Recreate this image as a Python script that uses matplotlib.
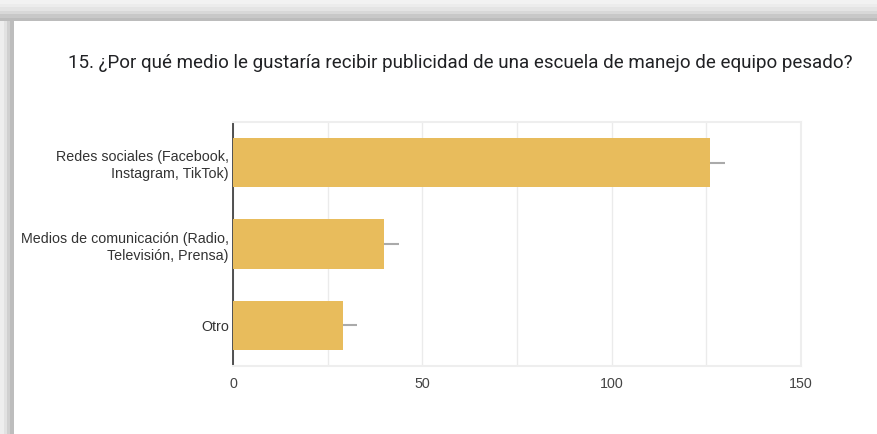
import matplotlib.pyplot as plt
from matplotlib.patches import Rectangle

titulo = '15. ¿Por qué medio le gustaría recibir publicidad de una escuela de manejo de equipo pesado?'
categorias = ['Redes sociales (Facebook,\nInstagram, TikTok)',
              'Medios de comunicación (Radio,\nTelevisión, Prensa)',
              'Otro']
valores = [126, 40, 29]
errores = [3.9, 3.8, 3.7]
ticks_x = [0, 50, 100, 150]

W, H = 878, 434
fig = plt.figure(figsize=(W / 100, H / 100), dpi=100)
fig.patch.set_facecolor('white')

# marco de la captura (sombra gris arriba e izquierda)
tonos = ['#f2f2f2', '#ececec', '#e4e4e4', '#d8d8d8', '#c8c8c8', '#bcbcbc']
for i, c in enumerate(tonos):
    y0 = 1 - (i + 1) * 3.5 / H
    fig.patches.append(Rectangle((0, y0), 1, 3.5 / H, transform=fig.transFigure,
                                 facecolor=c, edgecolor='none', zorder=0))
tonos_izq = ['#eeeeee', '#e2e2e2', '#d0d0d0', '#bdbdbd']
for i, c in enumerate(tonos_izq):
    fig.patches.append(Rectangle((i * 3.5 / W, 0), 3.5 / W, 1 - 21 / H,
                                 transform=fig.transFigure,
                                 facecolor=c, edgecolor='none', zorder=0))

fig.text(68 / W, 1 - 63 / H, titulo, fontsize=13.5, family='Roboto',
         color='#202124', va='center', ha='left')

ax = fig.add_axes([233 / W, 1 - 366 / H, (801 - 233) / W, (366 - 122) / H])
pos = list(range(len(categorias)))
ax.barh(pos, valores, height=0.61, color='#e8bc5c', zorder=3)
ax.errorbar(valores, pos, xerr=[[0] * len(errores), errores], fmt='none',
            ecolor='#aaaaaa', elinewidth=1.5, capsize=0, zorder=4)

ax.set_xlim(0, 150)
ax.set_ylim(2.5, -0.5)
ax.set_yticks(pos)
ax.set_yticklabels(categorias, family='Liberation Sans', fontsize=10.3,
                   color='#333333', linespacing=1.3, multialignment='right')
ax.set_xticks(ticks_x)
ax.set_xticklabels([str(t) for t in ticks_x], family='Liberation Sans',
                   fontsize=10.3, color='#444444')
ax.set_xticks([25, 75, 125], minor=True)
ax.grid(axis='x', which='both', color='#ebebeb', linewidth=1, zorder=0)
ax.tick_params(which='both', length=0, pad=3)
ax.tick_params(axis='x', pad=8)
for lado in ['top', 'right', 'bottom']:
    ax.spines[lado].set_color('#eeeeee')
    ax.spines[lado].set_linewidth(1.5)
ax.spines['left'].set_color('#333333')
ax.spines['left'].set_linewidth(1.2)

fig.savefig('out.png', dpi=100)
